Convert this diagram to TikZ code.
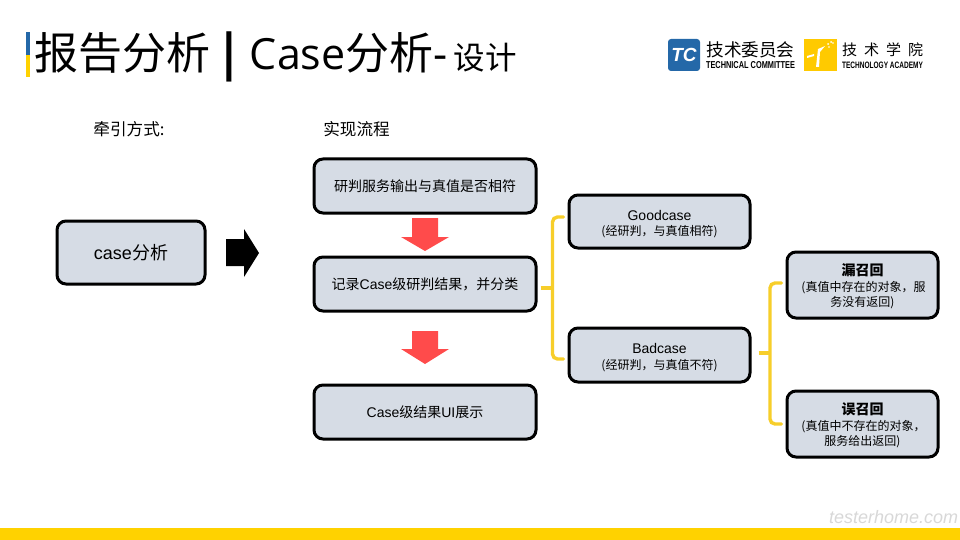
\documentclass[tikz,border=0pt]{standalone}
\usepackage{fontspec}
\usepackage{graphicx}
\usetikzlibrary{calc}
\setmainfont{Noto Sans CJK SC}
\newfontfamily\latf{Liberation Sans}
\newfontfamily\titlat{Open Sans}
\newfontfamily\condf{Liberation Sans}
\newcommand{\lat}[1]{{\latf #1}}
\newcommand{\leaftop}{\rule{0pt}{15pt}}
\definecolor{boxfill}{HTML}{D6DCE5}
\definecolor{brace}{HTML}{F7CE2A}
\definecolor{barY}{HTML}{FFD200}
\definecolor{redarrow}{HTML}{FF4B4B}
\definecolor{tcblue}{HTML}{2468A8}
\definecolor{wm}{HTML}{D8D8D8}
\tikzset{
  x=1pt,y=-1pt,
  flowbox/.style={draw=black,line width=3pt,fill=boxfill,rounded corners=9pt,align=center,inner sep=0pt,font=\fontsize{14}{16}\selectfont},
  leafbox/.style={flowbox,font=\fontsize{12}{15.5}\selectfont},
  bracket/.style={draw=brace,line width=3.4pt,rounded corners=5pt,line cap=round},
  heading/.style={anchor=center,inner sep=0pt,font=\fontsize{16.6}{18}\selectfont},
  redarr/.style={fill=redarrow,draw=none},
  logotext/.style={anchor=center,inner sep=0pt}
}
\begin{document}
\begin{tikzpicture}
\useasboundingbox (0,0) rectangle (960,540);
\fill[white] (0,0) rectangle (960,540);
% accent bar and bottom bar
\fill[tcblue] (26,32) rectangle (30,55);
\fill[barY] (26,55) rectangle (30,77);
\fill[barY] (0,528) rectangle (960,540);
% title
\node[anchor=base west,inner sep=0pt] (title) at (34,70)
  {\fontsize{44}{48}\selectfont 报告分析\hspace{12pt}\textbf{|}\hspace{14pt}{\fontsize{43}{48}\selectfont\titlat Case}分析{\titlat -}\hspace{6pt}\fontsize{31.5}{34}\selectfont 设计};
% logos
\fill[tcblue,rounded corners=3pt] (668,39) rectangle (700,71);
\node[logotext,text=white] (tc) at (684,55) {\fontsize{19}{20}\selectfont\latf\bfseries\itshape TC};
\node[logotext] (tcn) at (750.5,50) {\fontsize{17.6}{18}\selectfont 技术委员会};
\node[logotext] (tce) at (750.5,65) {\resizebox{89pt}{7pt}{\condf\bfseries TECHNICAL COMMITTEE}};
\fill[barY!90!orange] (804,39) rectangle (837,71);
\fill[white] (825,46) -- (818,49) -- (816,67) -- (819,67) -- (820,52) -- cycle;
\fill[white] (807,56) -- (814,54) -- (814,56) -- (807,58) -- cycle;
\fill[white] (828,44) circle (1pt) (831,42) circle (1pt) (833,43) circle (.8pt) (829,47) circle (.8pt);
\node[logotext] (tan) at (882.5,50) {\fontsize{15}{16}\selectfont 技\hspace{7pt}术\hspace{7pt}学\hspace{7pt}院};
\node[logotext] (tae) at (882.5,65) {\resizebox{81pt}{6.5pt}{\condf\bfseries TECHNOLOGY ACADEMY}};
% headings
\node[heading] (h1) at (129,129) {牵引方式:};
\node[heading] (h2) at (356.5,129) {实现流程};
% boxes
\node[flowbox,minimum width=148pt,minimum height=63pt,font=\fontsize{18}{20}\selectfont] (case) at (131,252.5) {\lat{case}分析};
\node[flowbox,minimum width=222pt,minimum height=54pt] (s1) at (425,186) {研判服务输出与真值是否相符};
\node[flowbox,minimum width=222pt,minimum height=54pt] (s2) at (425,284) {记录\lat{Case}级研判结果，并分类};
\node[flowbox,minimum width=222pt,minimum height=54pt] (s3) at (425,412) {\lat{Case}级结果\lat{UI}展示};
\node[leafbox,minimum width=181pt,minimum height=53pt] (good) at (659.5,221.5) {\leaftop{\fontsize{14}{15}\selectfont\lat{Goodcase}}\\(经研判，与真值相符)};
\node[leafbox,minimum width=181pt,minimum height=54pt] (bad) at (659.5,355) {\leaftop{\fontsize{14}{15}\selectfont\lat{Badcase}}\\(经研判，与真值不符)};
\node[leafbox,minimum width=151pt,minimum height=66pt] (miss) at (862.5,285) {\leaftop{\fontsize{14}{15}\selectfont\textbf{漏召回}}\\\hspace*{2pt}(真值中存在的对象，服\\务没有返回)};
\node[leafbox,minimum width=151pt,minimum height=66pt] (wrong) at (862.5,424) {\leaftop{\fontsize{14}{15}\selectfont\textbf{误召回}}\\\hspace*{2pt}(真值中不存在的对象，\\服务给出返回)};
% block arrows
\fill[black] (226,239) -- (244,239) -- (244,229) -- (259,253) -- (244,277) -- (244,266) -- (226,266) -- cycle;
\fill[redarr] (412,218) -- (438,218) -- (438,237) -- (449,237) -- (425,251) -- (401,237) -- (412,237) -- cycle;
\fill[redarr] (412,331) -- (438,331) -- (438,349) -- (449,349) -- (425,364) -- (401,349) -- (412,349) -- cycle;
% brackets
\coordinate (b1) at ($(s2.east)+(3,4)$);
\coordinate (b1v) at (552.5,288);
\coordinate (gt) at ($(good.west)+(-4,-4.5)$);
\coordinate (bt) at ($(bad.west)+(-4,4)$);
\draw[bracket] (gt) -| (b1v) |- (bt);
\draw[draw=brace,line width=3.4pt] (b1) -- (b1v);
\coordinate (b2) at ($(bad.east)+(7,-2)$);
\coordinate (b2v) at (770,353);
\coordinate (mt) at ($(miss.west)+(-4,-2)$);
\coordinate (wt) at ($(wrong.west)+(-4,0)$);
\draw[bracket] (mt) -| (b2v) |- (wt);
\draw[draw=brace,line width=3.4pt] (b2) -- (b2v);
% watermark
\node[anchor=base west,inner sep=0pt,text=wm] (wmk) at (829,523) {\resizebox{129pt}{!}{\fontsize{16}{18}\selectfont\itshape\latf testerhome.com}};
\end{tikzpicture}
\end{document}
